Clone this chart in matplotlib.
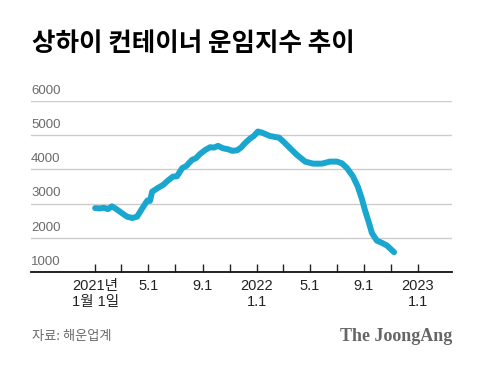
import numpy as np
import pandas as pd
import matplotlib
matplotlib.use('Agg')
import matplotlib.pyplot as plt
import matplotlib.dates as mdates
import matplotlib.transforms as mtransforms

plt.rcParams['font.family'] = ['Liberation Sans', 'Noto Sans CJK KR']

# SCFI (Shanghai Containerized Freight Index)
dates = ['2021-01-01', '2021-01-12', '2021-01-21', '2021-01-30', '2021-02-08', '2021-02-17',
         '2021-03-03', '2021-03-14', '2021-03-26', '2021-04-06', '2021-04-17', '2021-04-29',
         '2021-05-05', '2021-05-10', '2021-05-23', '2021-06-04', '2021-06-15', '2021-06-26',
         '2021-07-05', '2021-07-17', '2021-07-26', '2021-08-08', '2021-08-17', '2021-08-26',
         '2021-09-07', '2021-09-18', '2021-09-27', '2021-10-06', '2021-10-17', '2021-10-29',
         '2021-11-07', '2021-11-18', '2021-11-27', '2021-12-06', '2021-12-17', '2021-12-26',
         '2022-01-04', '2022-01-13', '2022-01-22', '2022-01-31', '2022-02-12', '2022-02-21',
         '2022-03-04', '2022-03-18', '2022-04-02', '2022-04-21', '2022-05-09', '2022-05-29',
         '2022-06-16', '2022-07-02', '2022-07-13', '2022-07-24', '2022-08-07', '2022-08-18',
         '2022-08-27', '2022-09-03', '2022-09-12', '2022-09-19', '2022-09-30', '2022-10-12',
         '2022-10-23', '2022-11-08']
values = [2870, 2860, 2880, 2840, 2920, 2850,
          2720, 2620, 2580, 2620, 2850, 3090,
          3080, 3350, 3460, 3550, 3680, 3790,
          3800, 4040, 4100, 4280, 4330, 4450,
          4570, 4650, 4640, 4690, 4620, 4590,
          4545, 4560, 4640, 4770, 4900, 4980,
          5110, 5080, 5030, 4980, 4950, 4930,
          4800, 4620, 4430, 4230, 4170, 4170,
          4230, 4230, 4180, 4050, 3800, 3500,
          3150, 2820, 2450, 2140, 1920, 1850,
          1775, 1580]

y_ticks = [1000, 2000, 3000, 4000, 5000, 6000]
x_ticks = pd.date_range('2021-01-01', '2023-01-01', freq='2MS')
x_labels = ['2021년\n1월 1일', '', '5.1', '', '9.1', '', '2022\n1.1',
            '', '5.1', '', '9.1', '', '2023\n1.1']

fig = plt.figure(figsize=(4.8, 3.66), dpi=100)
ax = fig.add_axes([0.0646, 0.2568, 0.877, 0.467])

ax.plot(pd.to_datetime(dates), values, color='#1AA7CF', lw=4.3,
        solid_capstyle='round', solid_joinstyle='round', zorder=3)

ax.set_ylim(1000, 6000)
ax.set_xlim(pd.Timestamp('2020-08-09'), pd.Timestamp('2023-03-19'))

ax.set_yticks(y_ticks)
ax.set_yticklabels([])
ax.tick_params(axis='y', length=0)
ax.grid(axis='y', color='#cccccc', lw=1)
trans = mtransforms.blended_transform_factory(ax.transAxes, ax.transData)
for v in y_ticks:
    ax.annotate(str(v), xy=(0, v), xycoords=trans, xytext=(0, 3),
                textcoords='offset points', ha='left', va='bottom',
                fontsize=9.5, color='#6b6b6b')

ax.set_xticks(x_ticks)
ax.set_xticklabels(x_labels, fontsize=10.5, color='#222222', linespacing=1.15)
ax.tick_params(axis='x', direction='in', length=6, width=1, color='#222222', pad=5)

for s in ['top', 'right', 'left']:
    ax.spines[s].set_visible(False)
ax.spines['bottom'].set_color('#111111')
ax.spines['bottom'].set_linewidth(1.3)

fig.text(0.066, 0.882, '상하이 컨테이너 운임지수 추이', fontsize=18.4,
         fontweight='black', family='Noto Sans CJK KR', va='center', ha='left')
fig.text(0.066, 0.08, '자료: 해운업계', fontsize=9.5, color='#6b6b6b',
         family='Noto Sans CJK KR', va='center', ha='left')
fig.text(0.942, 0.08, 'The JoongAng', fontsize=13, color='#666666',
         family='Liberation Serif', fontweight='bold', va='center', ha='right')

fig.savefig('out.png', dpi=100)
